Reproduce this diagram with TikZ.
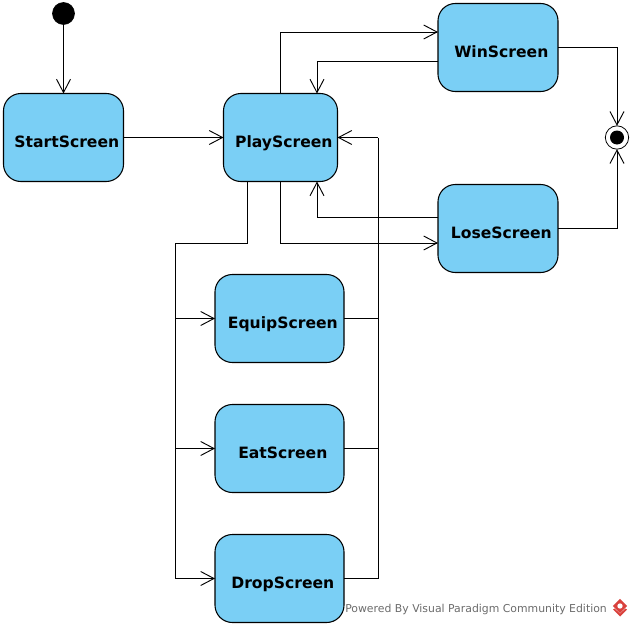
\documentclass[tikz,border=0pt]{standalone}
\usepackage{fontspec}
\setmainfont{DejaVu Sans}
\usetikzlibrary{arrows.meta}
\definecolor{statefill}{HTML}{7ACFF5}
\definecolor{logored}{HTML}{D9413C}
\newcommand{\statetext}[1]{\raisebox{-7.2pt}[0pt][0pt]{\hspace*{5pt}#1}}
\tikzset{
    statebox/.style={draw,fill=statefill,rounded corners=13pt,line width=0.8pt,outer sep=0pt,inner sep=0pt,
        minimum height=66pt,font=\fontsize{11.7pt}{14pt}\selectfont\bfseries},
    wide/.style={statebox,minimum width=90pt},
    mid/.style={statebox,minimum width=85.5pt},
    low/.style={statebox,minimum width=96.75pt},
    link/.style={line width=0.75pt,-{Straight Barb[length=10pt,width=10.5pt,line width=0.7pt]}},
    plainlink/.style={line width=0.75pt}
}
\begin{document}
\begin{tikzpicture}[x=0.75pt,y=-0.75pt]
    \useasboundingbox (0,0) rectangle (633,628);

    \node[circle,fill=black,draw,line width=0.5pt,minimum size=16.5pt,inner sep=0pt,outer sep=0pt] (init) at (63.5,13.5) {};
    \node[wide] (start) at (63.5,137.5) {\statetext{StartScreen}};
    \node[mid] (play) at (280.5,137.5) {\statetext{PlayScreen}};
    \node[wide] (win) at (498,47.5) {\statetext{WinScreen}};
    \node[wide] (lose) at (498,228.5) {\statetext{LoseScreen}};
    \node[low] (equip) at (279.5,318.5) {\statetext{EquipScreen}};
    \node[low] (eat) at (279.5,448.5) {\statetext{EatScreen}};
    \node[low] (drop) at (279.5,578.5) {\statetext{DropScreen}};
    \node[circle,draw,fill=white,line width=0.6pt,minimum size=17.5pt,inner sep=0pt,outer sep=0pt] (final) at (617,137.5) {};
    \node[circle,fill=black,minimum size=10.5pt,inner sep=0pt] (finaldot) at (final) {};

    \coordinate (busleft) at (175,243);
    \coordinate (busright) at (378,137.5);

    \draw[link] (init) -- (start);
    \draw[link] (start) -- (play);
    \draw[link] (play.north) |- ([shift={(0,-15.5)}]win.west);
    \draw[link] ([shift={(0,13.5)}]win.west) -| ([shift={(36.5,0)}]play.north);
    \draw[link] ([shift={(0,-11.5)}]lose.west) -| ([shift={(36.5,0)}]play.south);
    \draw[link] (play.south) |- ([shift={(0,14.5)}]lose.west);
    \draw[plainlink] ([shift={(-33.5,0)}]play.south) |- (busleft);
    \draw[link] (busleft) |- (equip.west);
    \draw[link] (busleft) |- (eat.west);
    \draw[link] (busleft) |- (drop.west);
    \draw[plainlink] (equip.east) -| (busright);
    \draw[plainlink] (eat.east) -| (busright);
    \draw[plainlink] (drop.east) -| (busright);
    \draw[link] (busright) -- (play.east);
    \draw[link] (win.east) -| (final.north);
    \draw[link] (lose.east) -| (final.south);

    \node[anchor=west,inner sep=0pt,text=black!58,font=\fontsize{8.15pt}{10pt}\selectfont] (powered) at (345,609) {Powered By Visual Paradigm Community Edition};
    \fill[logored,rotate around={45:(620,606)}] (615,601) rectangle (625,611);
    \fill[white] (620,606) circle[radius=2pt];
    \fill[logored] (613,609.5) -- (620,616.5) -- (627,609.5) -- (625.5,608.5) -- (620,613.5) -- (614.5,608.5) -- cycle;
\end{tikzpicture}
\end{document}
